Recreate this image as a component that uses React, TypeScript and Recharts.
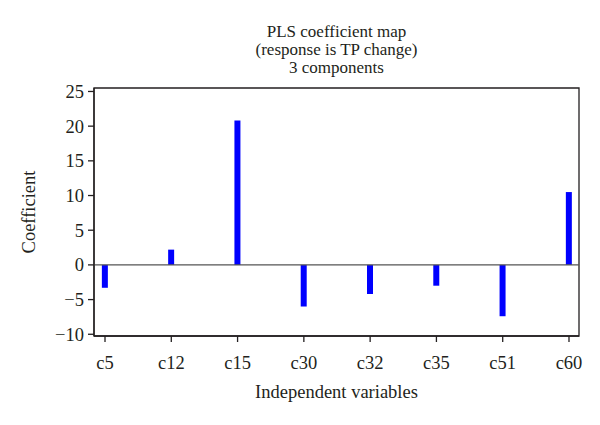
import { Bar, BarChart, ReferenceArea, ReferenceLine, XAxis, YAxis } from 'recharts';

const variables = ['c5', 'c12', 'c15', 'c30', 'c32', 'c35', 'c51', 'c60'];
const coefficients = [-3.3, 2.2, 20.8, -6.0, -4.2, -3.0, -7.4, 10.5];
const yTicks = [-10, -5, 0, 5, 10, 15, 20, 25];
const titleLines = ['PLS coefficient map', '(response is TP change)', '3 components'];

const data = variables.map((name, i) => ({ idx: i, name, value: coefficients[i] }));

const X_DOMAIN: [number, number] = [-0.166, 7.151];
const Y_DOMAIN: [number, number] = [-10.25, 25.5];

const FONT = '"Liberation Serif", "Times New Roman", serif';
const INK = '#231f20';

function YLabel({ viewBox }: any) {
    const cx = 31;
    const cy = viewBox.y + viewBox.height / 2;
    return (
        <text x={cx} y={cy} transform={`rotate(-90, ${cx}, ${cy})`} textAnchor="middle"
              dominantBaseline="middle" fontFamily={FONT} fontSize={18.5} fill={INK}>
            Coefficient
        </text>
    );
}

export default function App() {
    return (
        <div style={{ position: 'absolute', left: 0, top: 0, width: 600, height: 425, background: '#fff' }}>
            <div style={{
                position: 'absolute', left: 94, width: 485, top: 23, textAlign: 'center',
                fontFamily: FONT, fontSize: 17, lineHeight: '18px', color: INK,
            }}>
                {titleLines.map((t) => <div key={t}>{t}</div>)}
            </div>
            <BarChart width={600} height={425} data={data}
                      margin={{ top: 88, right: 21, bottom: 0, left: 0 }}>
                <XAxis type="number" dataKey="idx" domain={X_DOMAIN} ticks={[0, 1, 2, 3, 4, 5, 6, 7]}
                       tickFormatter={(i: number) => variables[i]} height={89} allowDataOverflow
                       stroke={INK} strokeWidth={1.3} tickSize={6} tickMargin={14}
                       tick={{ fontFamily: FONT, fontSize: 18.5, fill: INK }}
                       label={{ value: 'Independent variables', position: 'insideTop', offset: 49,
                           style: { fontFamily: FONT, fontSize: 18.5, fill: INK } }}/>
                <YAxis type="number" domain={Y_DOMAIN} ticks={yTicks} width={94} allowDataOverflow
                       stroke={INK} strokeWidth={1.3} tickSize={6} tickMargin={4} interval={0}
                       tickFormatter={(v: number) => (v < 0 ? `\u2212${Math.abs(v)}` : `${v}`)}
                       tick={{ fontFamily: FONT, fontSize: 18.5, fill: INK }}
                       label={<YLabel/>}/>
                <ReferenceArea x1={X_DOMAIN[0]} x2={X_DOMAIN[1]} y1={Y_DOMAIN[0]} y2={Y_DOMAIN[1]}
                               fill="none" fillOpacity={0} stroke={INK} strokeWidth={1.3} ifOverflow="visible"/>
                <ReferenceLine y={0} stroke="#555" strokeWidth={1.2}/>
                <Bar dataKey="value" fill="#0000ff" barSize={6} isAnimationActive={false}/>
            </BarChart>
        </div>
    );
}
